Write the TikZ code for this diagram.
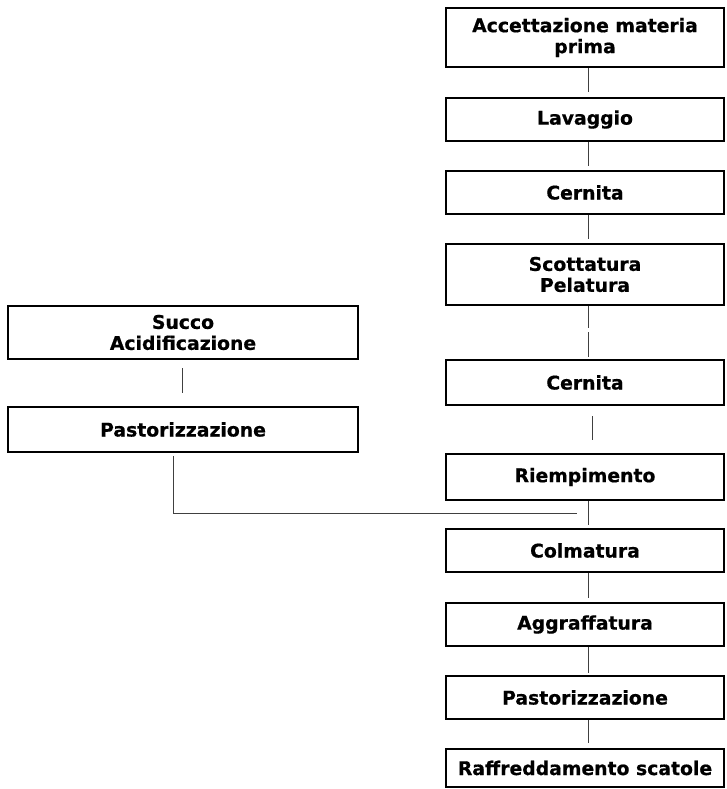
\documentclass[tikz,border=0pt]{standalone}
\usepackage{fontspec}
\setmainfont{DejaVu Sans}[BoldFeatures={FakeBold=0.6}]
\usetikzlibrary{calc}
\begin{document}
\begin{tikzpicture}[x=1pt,y=-1pt,
  box/.style={draw, line width=2pt, fill=white, align=center, inner sep=2pt,
    font=\fontsize{18.8}{21}\selectfont\bfseries},
  rbox/.style={box, minimum width=278pt},
  lbox/.style={box, minimum width=350pt},
  link/.style={draw=black!75, line width=1pt}]
\useasboundingbox (0,0) rectangle (726,789);

% main processing line
\node[rbox, minimum height=59pt] (acc)  at (585,37.5)  {Accettazione materia\\prima};
\node[rbox, minimum height=43pt] (lav)  at (585,119.5) {Lavaggio};
\node[rbox, minimum height=43pt] (cer1) at (585,192.5) {Cernita};
\node[rbox, minimum height=61pt] (sco)  at (585,274.5) {Scottatura\\Pelatura};
\node[rbox, minimum height=45pt] (cer2) at (585,382.5) {Cernita};
\node[rbox, minimum height=46pt] (rie)  at (585,477)   {Riempimento};
\node[rbox, minimum height=43pt] (col)  at (585,550.5) {Colmatura};
\node[rbox, minimum height=43pt] (agg)  at (585,624.5) {Aggraffatura};
\node[rbox, minimum height=43pt] (pas)  at (585,697.5) {Pastorizzazione};
\node[rbox, minimum height=38pt] (raf)  at (585,768)   {Raffreddamento scatole};

% juice branch
\node[lbox, minimum height=53pt] (suc)  at (183,332.5) {Succo\\Acidificazione};
\node[lbox, minimum height=45pt] (pasl) at (183,429.5) {Pastorizzazione};

\coordinate (join) at ([xshift=-8pt,yshift=-12pt]rie.south);

% connectors
\draw[link] ([xshift=3pt]acc.south) -- ([xshift=3pt,yshift=5pt]lav.north);
\draw[link] ([xshift=3pt]lav.south) -- ([xshift=3pt,yshift=4pt]cer1.north);
\draw[link] ([xshift=3pt]cer1.south) -- ([xshift=3pt,yshift=4pt]sco.north);
\draw[link] ([xshift=3pt]sco.south) -- ([xshift=3pt,yshift=-22pt]sco.south);
\draw[link] ([xshift=3pt,yshift=27pt]cer2.north) -- ([xshift=3pt,yshift=2pt]cer2.north);
\draw[link] ([xshift=7pt,yshift=-10pt]cer2.south) -- ([xshift=7pt,yshift=13pt]rie.north);
\draw[link] ([xshift=3pt]rie.south) -- ([xshift=3pt,yshift=3pt]col.north);
\draw[link] ([xshift=3pt]col.south) -- ([xshift=3pt,yshift=4pt]agg.north);
\draw[link] ([xshift=3pt]agg.south) -- ([xshift=3pt,yshift=2pt]pas.north);
\draw[link] ([xshift=3pt]pas.south) -- ([xshift=3pt,yshift=5pt]raf.north);

\draw[link] ([xshift=-1pt,yshift=-8pt]suc.south) -- ([xshift=-1pt,yshift=13pt]pasl.north);
\draw[link] ([xshift=-10pt,yshift=-3pt]pasl.south) |- (join);
\end{tikzpicture}
\end{document}
